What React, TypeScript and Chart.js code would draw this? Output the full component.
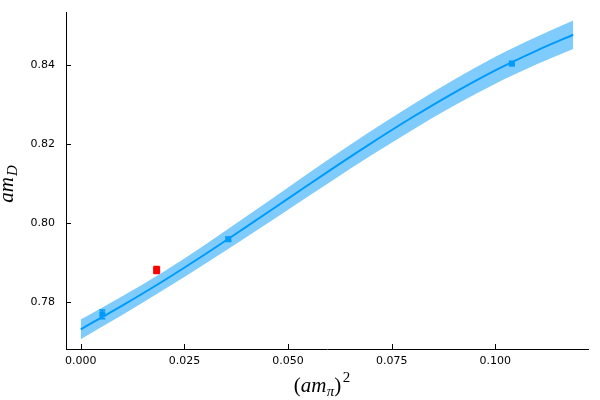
import { useEffect, useRef } from 'react';
import { Chart, registerables } from 'chart.js';

Chart.register(...registerables);

// Fit curve samples
const curveX = [0, 0.01, 0.02, 0.03, 0.04, 0.05, 0.06, 0.07, 0.08, 0.09, 0.10, 0.11, 0.1188];
const curveY = [0.7730, 0.7790, 0.7853, 0.7920, 0.7990, 0.8061, 0.8132, 0.8201, 0.8267, 0.8329, 0.8386, 0.8436, 0.8476];
const bandHalf = [0.0025, 0.0024, 0.0023, 0.0024, 0.0026, 0.0028, 0.0030, 0.0031, 0.0032, 0.0033, 0.0034, 0.0035, 0.0036];

// Data points
const blueX = [0.0052, 0.0356, 0.1040];
const blueY = [0.7768, 0.7958, 0.8403];
const blueErr = [0.0011, 0.0005, 0.0005];
const redX = [0.0183];
const redY = [0.7880];
const redErr = [0.0009];

// Axes
const xTicks = [0, 0.025, 0.05, 0.075, 0.1];
const yTicks = [0.78, 0.8, 0.82, 0.84];
const xMin = -0.00356;
const xMax = 0.12236;
const yMin = 0.76801;
const yMax = 0.85336;

const BLUE = '#009AFA';
const RED = '#FF0000';

const errorBarPlugin = {
  id: 'errorBars',
  afterDatasetsDraw(chart: any) {
    const { ctx } = chart;
    const xs = chart.scales.x;
    const ys = chart.scales.y;
    chart.data.datasets.forEach((ds: any) => {
      if (!ds.errors) return;
      ctx.save();
      ctx.strokeStyle = ds.backgroundColor;
      ctx.lineWidth = 1.5;
      ds.data.forEach((p: any, i: number) => {
        const px = xs.getPixelForValue(p.x);
        const top = ys.getPixelForValue(p.y + ds.errors[i]);
        const bot = ys.getPixelForValue(p.y - ds.errors[i]);
        ctx.beginPath();
        ctx.moveTo(px, top);
        ctx.lineTo(px, bot);
        ctx.moveTo(px - 3, top);
        ctx.lineTo(px + 3, top);
        ctx.moveTo(px - 3, bot);
        ctx.lineTo(px + 3, bot);
        ctx.stroke();
      });
      ctx.restore();
    });
  },
};

const innerTicksPlugin = {
  id: 'innerTicks',
  afterDraw(chart: any) {
    const { ctx, chartArea } = chart;
    const xs = chart.scales.x;
    const ys = chart.scales.y;
    ctx.save();
    ctx.strokeStyle = '#000';
    ctx.lineWidth = 1;
    ctx.beginPath();
    xTicks.forEach((v) => {
      const px = Math.round(xs.getPixelForValue(v)) + 0.5;
      ctx.moveTo(px, chartArea.bottom);
      ctx.lineTo(px, chartArea.bottom - 5);
    });
    yTicks.forEach((v) => {
      const py = Math.round(ys.getPixelForValue(v)) + 0.5;
      ctx.moveTo(chartArea.left, py);
      ctx.lineTo(chartArea.left + 5, py);
    });
    ctx.stroke();
    ctx.restore();
  },
};

const axisTitlesPlugin = {
  id: 'axisTitles',
  afterDraw(chart: any) {
    const { ctx } = chart;
    const main = 'italic 21px "Liberation Serif"';
    const up = '21px "Liberation Serif"';
    const sub = 'italic 15px "Liberation Serif"';
    const subUp = '15px "Liberation Serif"';
    ctx.save();
    ctx.fillStyle = '#000';
    ctx.textBaseline = 'alphabetic';
    ctx.textAlign = 'left';

    // x title: (am_π)^2
    const parts: [string, string, number][] = [
      ['(', up, 0],
      ['am', main, 0],
      ['π', sub, 4],
      [')', up, 0],
      ['2', subUp, -10],
    ];
    let total = 0;
    parts.forEach(([t, f]) => {
      ctx.font = f;
      total += ctx.measureText(t).width;
    });
    total += 2;
    const cx = 322;
    let x = cx - total / 2;
    const base = 392;
    parts.forEach(([t, f, dy], i) => {
      ctx.font = f;
      ctx.fillText(t, x, base + dy);
      x += ctx.measureText(t).width + (i === 1 ? 0.5 : 0) + (i === 3 ? 1.5 : 0);
    });

    // y title: am_D (rotated)
    ctx.font = main;
    const wAm = ctx.measureText('am').width;
    ctx.font = sub;
    const wD = ctx.measureText('D').width;
    const totalY = wAm + 1 + wD;
    const cy = 184;
    ctx.translate(13, cy + totalY / 2);
    ctx.rotate(-Math.PI / 2);
    ctx.font = main;
    ctx.fillText('am', 0, 0);
    ctx.font = sub;
    ctx.fillText('D', wAm + 1, 4);
    ctx.restore();
  },
};

export default function App() {
  const ref = useRef<HTMLCanvasElement>(null);

  useEffect(() => {
    const canvas = ref.current;
    if (!canvas) return;
    const upper = curveX.map((x, i) => ({ x, y: curveY[i] + bandHalf[i] }));
    const lower = curveX.map((x, i) => ({ x, y: curveY[i] - bandHalf[i] }));
    const fit = curveX.map((x, i) => ({ x, y: curveY[i] }));
    const blue = blueX.map((x, i) => ({ x, y: blueY[i] }));
    const red = redX.map((x, i) => ({ x, y: redY[i] }));

    const chart = new Chart(canvas, {
      type: 'line',
      data: {
        datasets: [
          {
            data: upper,
            borderWidth: 0,
            borderColor: 'rgba(0,0,0,0)',
            pointRadius: 0,
            fill: false,
            cubicInterpolationMode: 'monotone',
          },
          {
            data: lower,
            borderWidth: 0,
            borderColor: 'rgba(0,0,0,0)',
            backgroundColor: 'rgba(0,154,250,0.5)',
            pointRadius: 0,
            fill: '-1',
            cubicInterpolationMode: 'monotone',
          },
          {
            data: fit,
            borderColor: BLUE,
            borderWidth: 2,
            pointRadius: 0,
            fill: false,
            cubicInterpolationMode: 'monotone',
          },
          {
            data: blue,
            showLine: false,
            pointStyle: 'rect',
            pointRadius: 4.2,
            pointHoverRadius: 4.2,
            backgroundColor: BLUE,
            borderColor: BLUE,
            borderWidth: 0,
            errors: blueErr,
          } as any,
          {
            data: red,
            showLine: false,
            pointStyle: 'rect',
            pointRadius: 5,
            pointHoverRadius: 5,
            backgroundColor: RED,
            borderColor: RED,
            borderWidth: 0,
            errors: redErr,
          } as any,
        ],
      },
      options: {
        responsive: false,
        animation: false,
        layout: { autoPadding: false, padding: { top: 12, right: 12, left: 0, bottom: 0 } },
        plugins: { legend: { display: false }, tooltip: { enabled: false } },
        scales: {
          x: {
            type: 'linear',
            min: xMin,
            max: xMax,
            grid: { display: false, drawTicks: true, tickLength: 6 },
            border: { display: true, color: '#000', width: 1 },
            ticks: {
              color: '#000',
              font: { family: 'DejaVu Sans', size: 11 },
              padding: 0,
              maxRotation: 0,
              autoSkip: false,
              callback: (v: any) => Number(v).toFixed(3),
            },
            afterBuildTicks: (s: any) => {
              s.ticks = xTicks.map((v) => ({ value: v }));
            },
            afterFit: (s: any) => {
              s.height = 51;
            },
          },
          y: {
            type: 'linear',
            min: yMin,
            max: yMax,
            grid: { display: false, drawTicks: true, tickLength: 11 },
            border: { display: true, color: '#000', width: 1 },
            ticks: {
              color: '#000',
              font: { family: 'DejaVu Sans', size: 11 },
              padding: 0,
              autoSkip: false,
              callback: (v: any) => Number(v).toFixed(2),
            },
            afterBuildTicks: (s: any) => {
              s.ticks = yTicks.map((v) => ({ value: v }));
            },
            afterFit: (s: any) => {
              s.width = 66;
            },
          },
        },
      },
      plugins: [errorBarPlugin, innerTicksPlugin, axisTitlesPlugin],
    });
    return () => chart.destroy();
  }, []);

  return (
    <div style={{ position: 'fixed', left: 0, top: 0, width: 600, height: 400, background: '#fff' }}>
      <canvas ref={ref} width={600} height={400} style={{ display: 'block' }} />
    </div>
  );
}
